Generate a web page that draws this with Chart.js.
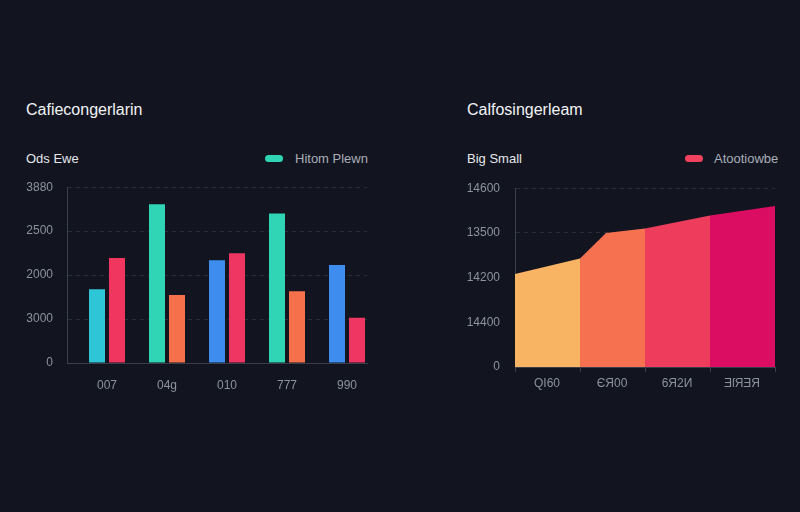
<!DOCTYPE html>
<html>
<head>
<meta charset="utf-8">
<script src="https://cdn.jsdelivr.net/npm/chart.js@4.4.1/dist/chart.umd.min.js"></script>
<style>
  html, body { margin: 0; padding: 0; background: #121520; width: 800px; height: 512px; overflow: hidden; }
  body { position: relative; font-family: "Liberation Sans", Arial, sans-serif; }
  .t { position: absolute; white-space: nowrap; line-height: 1; }
  .title { font-size: 16px; color: #f2f3f6; }
  .sub { font-size: 13px; color: #e6e8ec; }
  .leg { font-size: 13px; color: #a9aeb8; }
  .sw { position: absolute; width: 18px; height: 7px; border-radius: 4px; }
  canvas { position: absolute; }
</style>
</head>
<body>
<div class="t title" style="left:26px; top:102px;">Cafiecongerlarin</div>
<div class="t sub" style="left:26px; top:152px;">Ods Ewe</div>
<div class="sw" style="left:265px; top:155px; background:#2FD5B5;"></div>
<div class="t leg" style="left:295px; top:152px;">Hitom Plewn</div>

<div class="t title" style="left:467px; top:102px;">Calfosingerleam</div>
<div class="t sub" style="left:467px; top:152px;">Big Small</div>
<div class="sw" style="left:685px; top:155px; background:#F0415E;"></div>
<div class="t leg" style="left:714px; top:152px;">Atootiowbe</div>

<div style="position:absolute; left:0; top:166px; width:400px; height:230px;"><canvas id="c1" width="400" height="230"></canvas></div>
<div style="position:absolute; left:400px; top:166px; width:400px; height:230px;"><canvas id="c2" width="400" height="230"></canvas></div>

<script>
// ---- Left chart data ----
const barCategories = ['007', '04g', '010', '777', '990'];
const firstSeries  = [1680, 3610, 2340, 3400, 2230];
const secondSeries = [2390, 1550, 2500, 1630, 1030];
const firstColors  = ['#2EC5D7', '#2FD5B5', '#3D8CEE', '#2FD5B5', '#3D8CEE'];
const secondColors = ['#F0365F', '#F7704C', '#EF3562', '#F7704C', '#EF3562'];
const barYTickLabels = ['0', '3000', '2000', '2500', '3880'];

// ---- Right chart data ----
const areaX = [0, 1, 1.4, 2, 3, 4];
const areaValues = [2080, 2430, 3000, 3100, 3390, 3600];
const areaCategories = ['QI60', 'ЄЯ00', '6Я2И', 'ƎſЯƎЯ'];
const areaColors = ['#F9B463', '#F6714F', '#EE3D5C', '#DA0D63'];
const areaYTickLabels = ['0', '14400', '14200', '13500', '14600'];

const tickColor = '#8d929d';
const gridColor = '#2a2e3a';
const axisColor = '#3a3f4b';
const tickFont = { family: '"Liberation Sans", Arial, sans-serif', size: 12 };

Chart.defaults.animation = false;

new Chart(document.getElementById('c1'), {
  type: 'bar',
  data: {
    labels: barCategories,
    datasets: [
      { data: barCategories.map(() => null), backgroundColor: 'rgba(0,0,0,0)' },
      { data: firstSeries, backgroundColor: firstColors },
      { data: secondSeries, backgroundColor: secondColors }
    ]
  },
  options: {
    responsive: false,
    layout: { padding: { top: 13, right: 33, left: 0, bottom: 0 } },
    plugins: { legend: { display: false }, tooltip: { enabled: false } },
    datasets: { bar: { categoryPercentage: 1.0, barPercentage: 0.8 } },
    scales: {
      x: {
        grid: { display: false },
        border: { display: true, color: axisColor, width: 1 },
        ticks: { color: tickColor, font: tickFont, padding: 7, labelOffset: 10, maxRotation: 0 },
        afterFit: s => { s.height = 33; }
      },
      y: {
        min: 0, max: 4000,
        grid: { color: gridColor, drawTicks: false },
        border: { display: true, color: axisColor, dash: [4, 4] },
        ticks: { stepSize: 1000, color: tickColor, font: tickFont, padding: 14,
                 callback: (v, i) => barYTickLabels[i] },
        afterFit: s => { s.width = 67; }
      }
    }
  }
});

new Chart(document.getElementById('c2'), {
  type: 'line',
  data: {
    datasets: [{
      data: areaX.map((x, i) => ({ x: x, y: areaValues[i] })),
      fill: 'origin',
      borderWidth: 0,
      pointRadius: 0,
      tension: 0,
      backgroundColor: areaColors[0],
      segment: {
        backgroundColor: ctx => areaColors[Math.min(Math.floor(areaX[ctx.p0DataIndex]), areaColors.length - 1)],
        borderColor: ctx => areaColors[Math.min(Math.floor(areaX[ctx.p0DataIndex]), areaColors.length - 1)]
      }
    }]
  },
  options: {
    responsive: false,
    layout: { padding: { top: 13, right: 25, left: 0, bottom: 0 } },
    plugins: { legend: { display: false }, tooltip: { enabled: false } },
    scales: {
      x: {
        type: 'linear', min: 0, max: 4,
        grid: { drawOnChartArea: false, color: axisColor, tickLength: 5 },
        border: { display: true, color: axisColor },
        ticks: { stepSize: 1, color: tickColor, font: tickFont, padding: 4, labelOffset: 32, maxRotation: 0,
                 callback: (v, i) => areaCategories[i] !== undefined ? areaCategories[i] : '' },
        afterFit: s => { s.height = 29; }
      },
      y: {
        min: 0, max: 4000,
        grid: { color: gridColor, drawTicks: false },
        border: { display: true, color: axisColor, dash: [4, 4] },
        ticks: { stepSize: 1000, color: tickColor, font: tickFont, padding: 15,
                 callback: (v, i) => areaYTickLabels[i] },
        afterFit: s => { s.width = 115; }
      }
    }
  }
});
</script>
</body>
</html>
